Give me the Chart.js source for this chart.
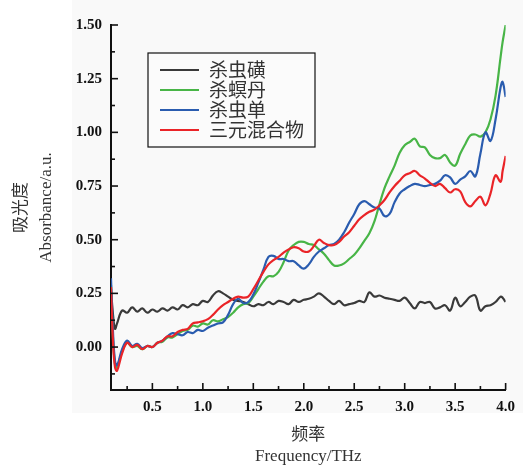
<!DOCTYPE html>
<html>
<head>
<meta charset="utf-8">
<script src="https://cdn.jsdelivr.net/npm/chart.js@4.4.0/dist/chart.umd.min.js"></script>
<style>
  html, body { margin:0; padding:0; background:#fff; }
  #wrap { width:523px; height:471px; position:relative; }
</style>
</head>
<body>
<div id="wrap"><canvas id="absChart"></canvas></div>
<script>
// frequency axis (THz)
const freq = [0.09,0.11,0.13,0.15,
  0.20,0.25,0.30,0.35,0.40,0.45,0.50,0.55,0.60,0.65,0.70,0.75,0.80,0.85,0.90,0.95,
  1.00,1.05,1.10,1.15,1.20,1.25,1.30,1.35,1.40,1.45,1.50,1.55,1.60,1.65,1.70,1.75,
  1.80,1.85,1.90,1.95,2.00,2.05,2.10,2.15,2.20,2.25,2.30,2.35,2.40,2.45,2.50,2.55,
  2.60,2.65,2.70,2.75,2.80,2.85,2.90,2.95,3.00,3.05,3.10,3.15,3.20,3.25,3.30,3.35,
  3.40,3.45,3.50,3.55,3.60,3.65,3.70,3.75,3.80,3.85,3.90,3.95,3.97,4.00];

const seriesNames = ['杀虫磺','杀螟丹','杀虫单','三元混合物'];
const seriesColors = ['#3a3a3a','#48b547','#2a5caf','#ea2428'];

const shachonghuang = [0.27,0.15,0.085,0.11,
  0.17,0.16,0.185,0.165,0.18,0.16,0.175,0.165,0.18,0.17,0.185,0.175,0.195,0.185,0.20,0.195,
  0.215,0.21,0.24,0.26,0.25,0.235,0.22,0.215,0.21,0.20,0.19,0.20,0.195,0.21,0.20,0.215,
  0.21,0.20,0.22,0.21,0.22,0.225,0.235,0.25,0.235,0.215,0.20,0.215,0.195,0.20,0.205,0.215,
  0.21,0.255,0.235,0.24,0.23,0.225,0.22,0.215,0.23,0.205,0.18,0.21,0.205,0.21,0.18,0.185,
  0.195,0.17,0.23,0.19,0.21,0.235,0.24,0.17,0.19,0.195,0.21,0.235,0.23,0.21];

const shamingdan = [0.29,0.04,-0.08,-0.095,
  -0.02,0.02,0.0,0.005,-0.01,0.005,0.0,0.02,0.025,0.045,0.045,0.06,0.075,0.08,0.10,0.095,
  0.11,0.105,0.125,0.12,0.13,0.14,0.16,0.185,0.20,0.205,0.235,0.27,0.305,0.33,0.33,0.35,
  0.395,0.45,0.475,0.49,0.49,0.48,0.475,0.455,0.435,0.405,0.38,0.38,0.39,0.41,0.43,0.46,
  0.495,0.53,0.585,0.665,0.74,0.795,0.845,0.905,0.94,0.955,0.97,0.935,0.93,0.895,0.88,0.88,
  0.895,0.86,0.845,0.90,0.945,0.985,0.99,0.98,1.00,1.06,1.17,1.35,1.42,1.50];

const shachongdan = [0.32,0.07,-0.065,-0.085,
  -0.01,0.03,0.005,0.015,-0.005,0.005,0.0,0.02,0.03,0.05,0.065,0.06,0.055,0.07,0.065,0.08,
  0.075,0.09,0.10,0.11,0.115,0.15,0.20,0.225,0.205,0.21,0.245,0.30,0.36,0.42,0.425,0.41,
  0.41,0.40,0.40,0.38,0.365,0.385,0.42,0.445,0.46,0.475,0.48,0.50,0.535,0.58,0.62,0.665,
  0.68,0.665,0.65,0.645,0.61,0.62,0.675,0.715,0.735,0.75,0.76,0.755,0.75,0.755,0.76,0.775,
  0.80,0.79,0.76,0.78,0.795,0.82,0.795,0.90,1.00,0.96,1.06,1.21,1.235,1.165];

const mixture = [0.28,0.02,-0.095,-0.11,
  -0.03,0.02,0.0,0.01,-0.01,0.005,0.0,0.02,0.03,0.05,0.05,0.07,0.08,0.085,0.11,0.115,
  0.12,0.13,0.15,0.175,0.195,0.21,0.225,0.235,0.23,0.235,0.27,0.31,0.35,0.385,0.405,0.42,
  0.44,0.455,0.465,0.46,0.445,0.445,0.47,0.50,0.485,0.475,0.475,0.49,0.515,0.535,0.565,0.595,
  0.615,0.63,0.64,0.66,0.685,0.72,0.75,0.775,0.80,0.81,0.82,0.80,0.785,0.765,0.75,0.76,
  0.74,0.72,0.735,0.725,0.675,0.655,0.68,0.70,0.66,0.715,0.80,0.77,0.82,0.89];

const xMajor = [0.5,1.0,1.5,2.0,2.5,3.0,3.5,4.0];
const xMinor = [0.25,0.75,1.25,1.75,2.25,2.75,3.25,3.75];
const yMajor = [0,0.25,0.5,0.75,1.0,1.25,1.5];
const yMinor = [-0.125,0.125,0.375,0.625,0.875,1.125,1.375];

const allSeries = [shachonghuang, shamingdan, shachongdan, mixture];
const serifFont = "'Liberation Serif','Noto Sans CJK SC',serif";
const cjkFont = "'Noto Sans CJK SC','Liberation Serif',serif";

const paperBg = {
  id:'paperBg',
  beforeDraw(chart){
    const ctx = chart.ctx;
    ctx.save();
    ctx.fillStyle = '#ffffff';
    ctx.fillRect(0,0,chart.width,chart.height);
    ctx.fillStyle = '#f9f9f9';
    ctx.fillRect(72,0,chart.width-72,413);
    ctx.restore();
  }
};

// inward tick marks
const innerTicks = {
  id:'innerTicks',
  afterDraw(chart){
    const {ctx, chartArea:a, scales:{x,y}} = chart;
    ctx.save();
    ctx.strokeStyle = '#111';
    ctx.lineWidth = 1.6;
    const seg = (x1,y1,x2,y2)=>{ ctx.beginPath(); ctx.moveTo(x1,y1); ctx.lineTo(x2,y2); ctx.stroke(); };
    xMajor.forEach(v=>{ const p=x.getPixelForValue(v); seg(p,a.bottom,p,a.bottom-7); });
    xMinor.forEach(v=>{ const p=x.getPixelForValue(v); seg(p,a.bottom,p,a.bottom-4); });
    yMajor.forEach(v=>{ const p=y.getPixelForValue(v); seg(a.left,p,a.left+7,p); });
    yMinor.forEach(v=>{ const p=y.getPixelForValue(v); seg(a.left,p,a.left+4,p); });
    ctx.restore();
  }
};

// legend box inside the plot
const boxLegend = {
  id:'boxLegend',
  afterDraw(chart){
    const ctx = chart.ctx;
    ctx.save();
    ctx.fillStyle = '#fbfbfb';
    ctx.fillRect(148,53,167,94);
    ctx.strokeStyle = '#111';
    ctx.lineWidth = 1.2;
    ctx.strokeRect(148,53,167,94);
    ctx.font = '19px ' + cjkFont;
    ctx.textBaseline = 'middle';
    chart.data.datasets.forEach((ds,i)=>{
      const yy = 70 + i*20;
      ctx.strokeStyle = ds.borderColor;
      ctx.lineWidth = 2.2;
      ctx.beginPath(); ctx.moveTo(160,yy); ctx.lineTo(199,yy); ctx.stroke();
      ctx.fillStyle = '#333';
      ctx.fillText(ds.label, 209, yy);
    });
    ctx.restore();
  }
};

const tickFont = { family:serifFont, size:15, weight:'bold' };

new Chart(document.getElementById('absChart'), {
  type:'line',
  data:{
    datasets: allSeries.map((vals,i)=>({
      label: seriesNames[i],
      data: freq.map((f,j)=>({x:f, y:vals[j]})),
      borderColor: seriesColors[i],
      borderWidth: 2.2,
      pointRadius: 0,
      tension: 0.4,
      fill: false,
      order: 3 - i
    }))
  },
  options:{
    responsive:true,
    maintainAspectRatio:false,
    animation:false,
    layout:{ padding:{ top:25, right:17, left:0, bottom:0 } },
    plugins:{ legend:{display:false}, tooltip:{enabled:false} },
    scales:{
      x:{
        type:'linear', min:0.09, max:4.0,
        afterBuildTicks: s=>{ s.ticks = xMajor.map(v=>({value:v})); },
        afterFit: s=>{ s.height = 81; },
        grid:{ display:false, drawTicks:false },
        border:{ display:true, color:'#111', width:2 },
        ticks:{ padding:8, color:'#111', font:tickFont, maxRotation:0, autoSkip:false,
                callback: v=>Number(v).toFixed(1) },
        title:{ display:true, text:['频率','Frequency/THz'], color:'#333',
                font:{ family:serifFont, size:17, lineHeight:1.235 }, padding:{top:0,bottom:4} }
      },
      y:{
        type:'linear', min:-0.2, max:1.5,
        afterBuildTicks: s=>{ s.ticks = yMajor.map(v=>({value:v})); },
        afterFit: s=>{ s.width = 111; },
        grid:{ display:false, drawTicks:false },
        border:{ display:true, color:'#111', width:2 },
        ticks:{ padding:9, color:'#111', font:tickFont, autoSkip:false,
                callback: v=>Number(v).toFixed(2) },
        title:{ display:true, text:['吸光度','Absorbance/a.u.'], color:'#333',
                font:{ family:serifFont, size:17, lineHeight:1.47 }, padding:{top:9.5,bottom:0} }
      }
    }
  },
  plugins:[paperBg, innerTicks, boxLegend]
});
</script>
</body>
</html>
